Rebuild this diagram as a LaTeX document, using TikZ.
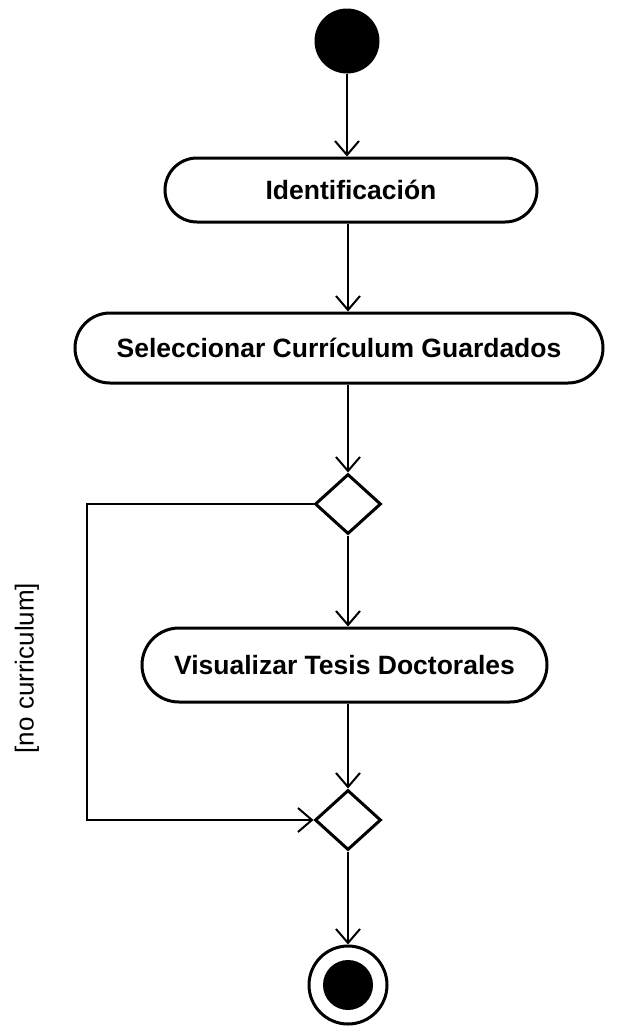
\documentclass[tikz,border=0pt]{standalone}
\usepackage{fontspec}
\setmainfont{Liberation Sans}
\usetikzlibrary{shapes.misc,shapes.geometric,arrows.meta}
\begin{document}
\begin{tikzpicture}[x=1pt,y=-1pt,
  act/.style={rounded rectangle, draw, line width=3pt, font=\bfseries\fontsize{26.5}{30}\selectfont, inner sep=0pt},
  dec/.style={diamond, draw, line width=3pt, minimum width=66pt, minimum height=60pt, inner sep=0pt},
  arr/.style={line width=2pt, -{Straight Barb[length=14pt,width=24pt,line width=2pt]}}]
\useasboundingbox (0,0) rectangle (618,1034);
\node[circle, fill=black, minimum size=65pt, inner sep=0pt] (start) at (347,41) {};
\node[act, minimum width=372pt, minimum height=64pt] (ident) at (351,190) {Identificación};
\node[act, minimum width=528pt, minimum height=70pt] (sel) at (339,348) {Seleccionar Currículum Guardados};
\node[dec] (d1) at (348,504) {};
\node[act, minimum width=405pt, minimum height=74pt] (vis) at (344.5,665) {Visualizar Tesis Doctorales};
\node[dec] (d2) at (348,820) {};
\node[circle, draw, line width=3pt, minimum size=78pt, inner sep=0pt] (end) at (348,985) {};
\node[circle, fill=black, minimum size=50pt, inner sep=0pt] (endin) at (end.center) {};
\node[rotate=90, font=\fontsize{26}{30}\selectfont] (lbl) at (27,668) {[no curriculum]};
\draw[arr] (start.south) -- (start.south |- ident.north);
\draw[arr] (d1.north |- ident.south) -- (d1.north |- sel.north);
\draw[arr] (d1.north |- sel.south) -- (d1.north);
\draw[arr] (d1.south) -- (d1.south |- vis.north);
\draw[arr] (d2.north |- vis.south) -- (d2.north);
\draw[arr] (d2.south) -- (end.north);
\draw[arr] (d1.west) -- ++(-227,0) |- (d2.west);
\end{tikzpicture}
\end{document}
